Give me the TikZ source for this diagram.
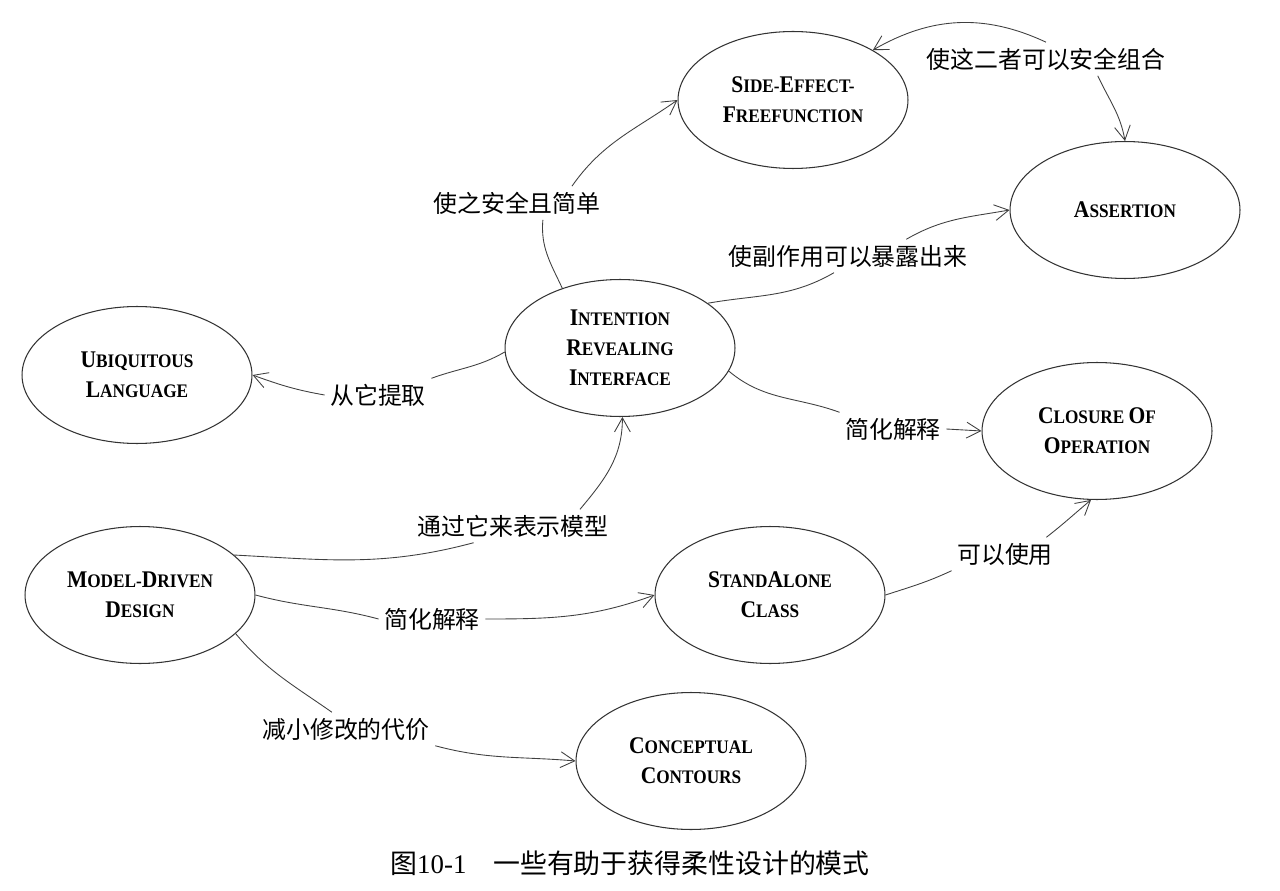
\documentclass[tikz,border=0pt]{standalone}
\usepackage{fontspec}
\setmainfont{Liberation Serif}
\newfontfamily\cjk{Noto Sans CJK SC}
\newfontfamily\nodefont[FakeStretch=0.9]{Liberation Serif}
\usetikzlibrary{shapes.geometric,arrows.meta}
% big first letter of the small caps
\newcommand\upl[1]{{\fontsize{13.6}{17}\selectfont #1}}

\begin{document}
\begin{tikzpicture}[x=0.02cm, y=0.02cm,
    patnode/.style={ellipse, draw=black!80, line width=0.6pt,
        minimum width=4.6cm, minimum height=2.74cm, inner sep=0pt, align=center,
        font=\nodefont\bfseries\fontsize{10.9}{17}\selectfont},
    lbl/.style={inner sep=3pt, font=\cjk\fontsize{13.6}{16}\selectfont},
    conn/.style={draw=black!75, line width=0.5pt},
    arr/.style={-{Straight Barb[length=8pt,width=9pt]}}]

    % Fix the page size
    \useasboundingbox (0,0) rectangle (1280,890);

    % Draw the patterns
    \node[patnode] (sideeffect) at (793,790) {\upl{S}IDE-\upl{E}FFECT-\\\upl{F}REEFUNCTION};
    \node[patnode] (assertion) at (1125,680) {\upl{A}SSERTION};
    \node[patnode] (intention) at (620,542) {\upl{I}NTENTION\\\upl{R}EVEALING\\\upl{I}NTERFACE};
    \node[patnode] (ubiq) at (137,515) {\upl{U}BIQUITOUS\\\upl{L}ANGUAGE};
    \node[patnode] (closure) at (1097,459) {\upl{C}LOSURE \upl{O}F\\\upl{O}PERATION};
    \node[patnode] (mdd) at (140,295) {\upl{M}ODEL-\upl{D}RIVEN\\\upl{D}ESIGN};
    \node[patnode] (standalone) at (770,295) {\upl{S}TAND\upl{A}LONE\\\upl{C}LASS};
    \node[patnode] (contours) at (691,129) {\upl{C}ONCEPTUAL\\\upl{C}ONTOURS};

    % Add the labels of the relations
    \node[lbl] (lSafe) at (517,687) {使之安全且简单};
    \node[lbl] (lComb) at (1046,831) {使这二者可以安全组合};
    \node[lbl] (lExpose) at (848,634) {使副作用可以暴露出来};
    \node[lbl] (lExtract) at (378,495) {从它提取};
    \node[lbl] (lModel) at (513,364) {通过它来表示模型};
    \node[lbl] (lSimp) at (893,461) {简化解释};
    \node[lbl] (lUse) at (1005,336) {可以使用};
    \node[lbl] (lSimpB) at (432,271) {简化解释};
    \node[lbl] (lCost) at (346,161) {减小修改的代价};

    % Draw the relations
    \draw[conn] (intention.134) to[out=115, in=-95] (lSafe.-33);
    \draw[conn,arr] (lSafe.17) to[out=55, in=-145] (sideeffect.west);
    \draw[conn,arr] (lComb.north) to[out=155, in=30] (sideeffect.32);
    \draw[conn,arr] (lComb.-18) to[out=-65, in=100] (assertion.north);
    \draw[conn] (intention.27) to[out=10, in=-150] (lExpose.-130);
    \draw[conn,arr] (lExpose.16) to[out=30, in=190] (assertion.west);
    \draw[conn] (intention.182) to[out=210, in=20] (lExtract.north east);
    \draw[conn,arr] (lExtract.west) to[out=170, in=-20] (ubiq.east);
    \draw[conn] (mdd.23) to[out=-3, in=195] (lModel.-157);
    \draw[conn,arr] (lModel.14) to[out=50, in=-90] (intention.-88);
    \draw[conn] (intention.-12) to[out=-40, in=160] (lSimp.north west);
    \draw[conn,arr] (lSimp.east) -- (closure.west);
    \draw[conn] (mdd.east) to[out=-15, in=165] (lSimpB.west);
    \draw[conn,arr] (lSimpB.east) to[out=0, in=-160] (standalone.west);
    \draw[conn] (standalone.east) to[out=18, in=-155] (lUse.south west);
    \draw[conn,arr] (lUse.22) to[out=38, in=-140] (closure.-95);
    \draw[conn] (mdd.-22) to[out=-50, in=145] (lCost.130);
    \draw[conn,arr] (lCost.south east) to[out=-15, in=175] (contours.west);

    % Caption
    \node[font=\fontsize{15.3}{18}\selectfont] (caption) at (630,27) {{\cjk 图}10-1\quad{\cjk 一些有助于获得柔性设计的模式}};

\end{tikzpicture}
\end{document}
